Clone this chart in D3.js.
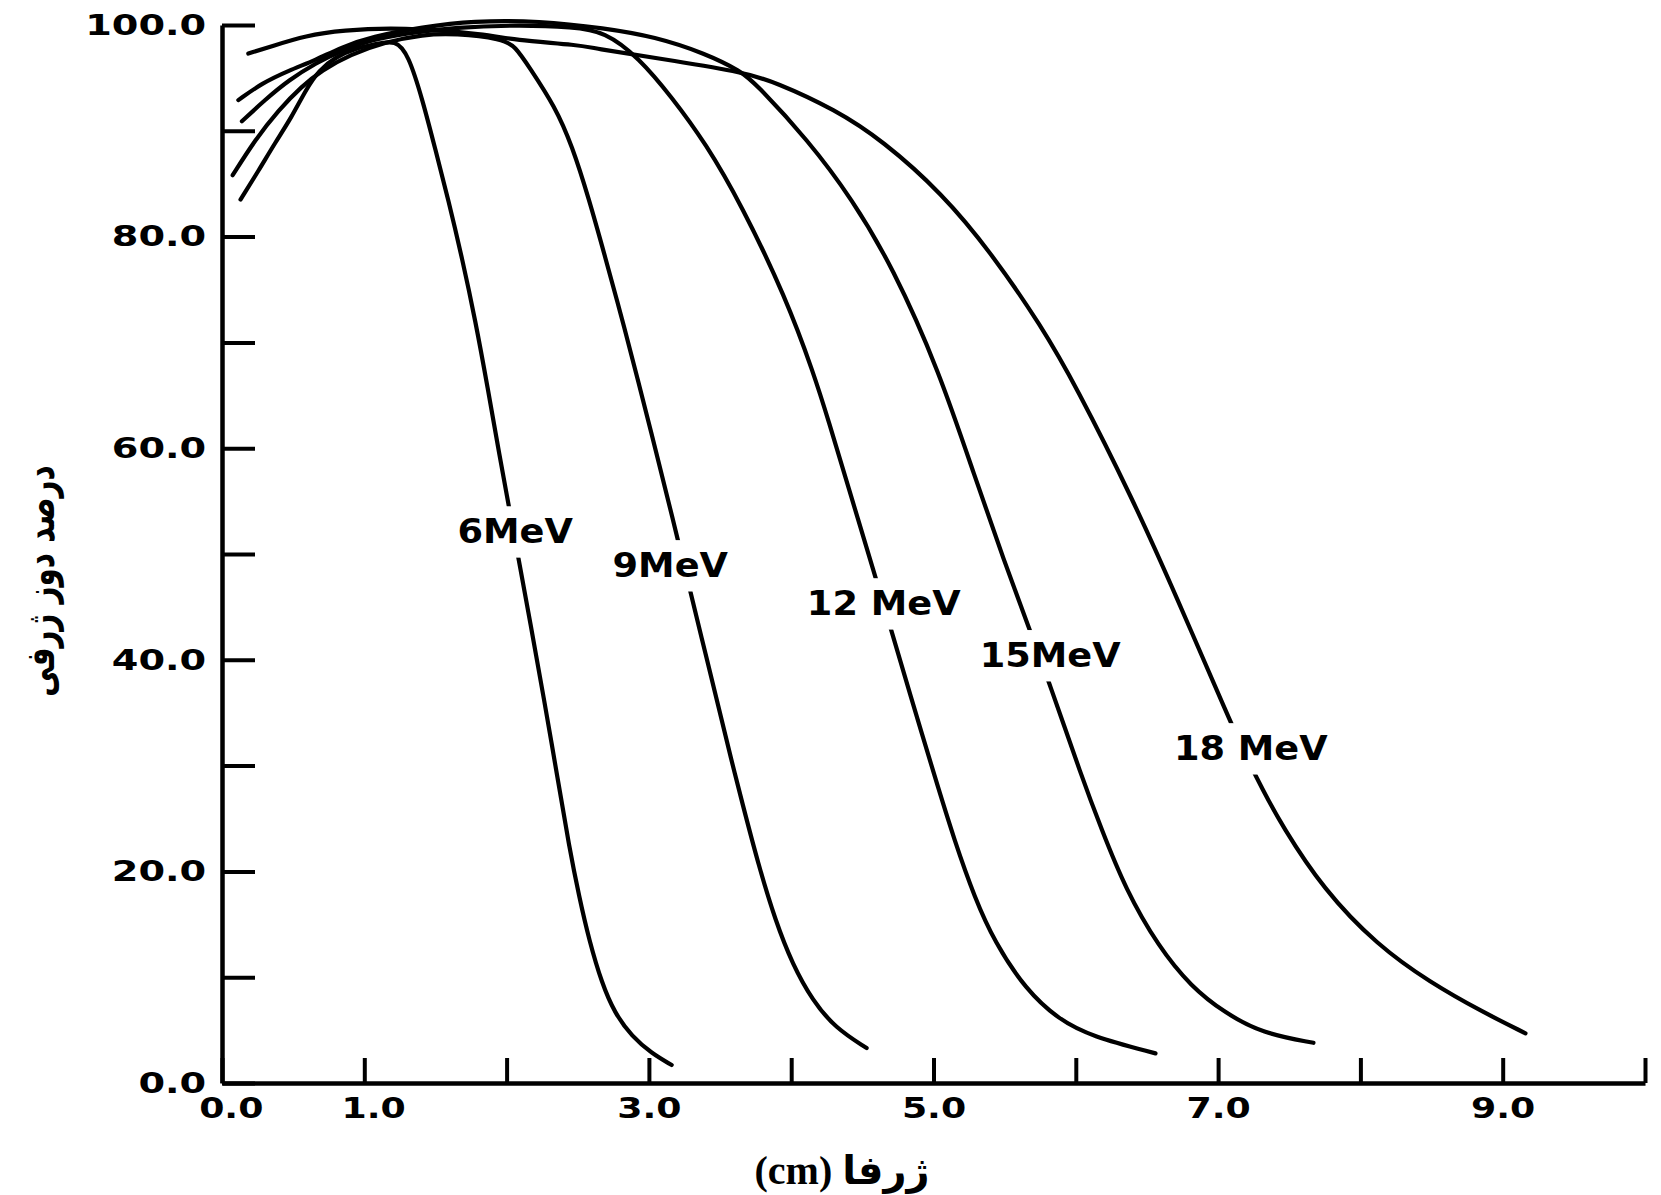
<!DOCTYPE html>
<html>
<head>
<meta charset="utf-8">
<script src="https://cdn.jsdelivr.net/npm/d3@7"></script>
<style>
  body { margin: 0; background: #fff; }
</style>
</head>
<body>
<svg id="chart"></svg>
<script>
// depth (cm) / percent depth dose
const depth6 = [0.13, 0.26, 0.37, 0.49, 0.59, 0.68, 0.80, 0.94, 1.08, 1.22, 1.31, 1.41, 1.50, 1.59, 1.69, 1.78, 1.87, 1.94, 2.01, 2.10, 2.18, 2.26, 2.36, 2.44, 2.51, 2.58, 2.67, 2.76, 2.88, 3.02, 3.16];
const dose6 = [83.5, 86.3, 88.8, 91.3, 93.9, 95.7, 97.0, 97.8, 98.2, 98.6, 97.2, 92.9, 88.2, 83.5, 77.8, 72.1, 65.5, 60.1, 54.9, 48.4, 42.5, 36.5, 28.7, 22.3, 17.6, 13.5, 9.4, 6.6, 4.4, 2.8, 1.7];

const depth9 = [0.075, 0.23, 0.40, 0.56, 0.70, 0.90, 1.15, 1.41, 1.64, 1.97, 2.06, 2.16, 2.34, 2.46, 2.58, 2.69, 2.81, 2.92, 3.05, 3.17, 3.26, 3.37, 3.49, 3.58, 3.65, 3.77, 3.89, 4.01, 4.15, 4.31, 4.53];
const dose9 = [85.8, 89.1, 92.0, 94.2, 95.7, 97.2, 98.4, 99.1, 99.2, 98.7, 98.0, 96.0, 92.3, 88.6, 83.5, 78.2, 72.3, 66.6, 59.7, 53.2, 48.2, 42.1, 35.5, 30.5, 26.8, 20.6, 15.3, 11.2, 7.8, 5.2, 3.3];

const depth12 = [0.14, 0.30, 0.47, 0.66, 0.84, 1.05, 1.29, 1.64, 2.11, 2.46, 2.69, 2.93, 3.16, 3.40, 3.65, 3.96, 4.16, 4.26, 4.40, 4.59, 4.69, 4.83, 5.01, 5.15, 5.29, 5.43, 5.65, 5.88, 6.11, 6.56];
const dose12 = [90.9, 92.9, 94.8, 96.4, 97.6, 98.6, 99.2, 99.8, 100.0, 99.8, 99.4, 96.9, 93.2, 88.8, 83.0, 74.3, 67.0, 62.7, 56.4, 47.9, 43.4, 37.0, 28.9, 22.8, 17.5, 13.3, 8.8, 6.0, 4.4, 2.8];

const depth15 = [0.115, 0.28, 0.47, 0.66, 0.84, 1.05, 1.41, 1.76, 2.23, 2.69, 3.04, 3.40, 3.65, 3.74, 4.12, 4.43, 4.71, 5.04, 5.29, 5.50, 5.66, 5.82, 6.04, 6.18, 6.35, 6.58, 6.81, 7.05, 7.31, 7.67];
const dose15 = [92.9, 94.5, 95.7, 96.7, 97.9, 98.9, 99.8, 100.4, 100.4, 99.7, 98.9, 97.3, 95.6, 94.6, 89.1, 83.5, 77.2, 67.3, 57.3, 49.2, 43.4, 37.6, 29.0, 24.0, 18.3, 12.9, 9.1, 6.6, 4.7, 3.8];

const depth18 = [0.185, 0.35, 0.59, 0.84, 1.26, 1.87, 2.04, 2.52, 2.61, 3.04, 3.65, 3.89, 4.31, 4.64, 5.06, 5.41, 5.76, 6.00, 6.40, 6.70, 7.09, 7.21, 7.31, 7.45, 7.74, 8.12, 8.49, 8.86, 9.16];
const dose18 = [97.3, 98.0, 99.0, 99.5, 99.8, 99.1, 98.6, 98.1, 97.8, 96.9, 95.6, 94.6, 92.0, 89.1, 84.1, 78.4, 71.5, 65.9, 55.2, 46.2, 34.0, 30.5, 27.8, 24.3, 18.3, 13.0, 9.5, 6.7, 4.7];

const labelText = ['6MeV', '9MeV', '12 MeV', '15MeV', '18 MeV'];
const labelDepth = [2.06, 3.15, 4.65, 5.82, 7.23];
const labelDose = [52.2, 49.0, 45.4, 40.5, 31.7];

const xTicks = [0, 1, 2, 3, 4, 5, 6, 7, 8, 9, 10];
const xTickLabels = [0, 1, 3, 5, 7, 9];
const yTicks = [0, 10, 20, 30, 40, 50, 60, 70, 80, 90, 100];
const yTickLabels = [0, 20, 40, 60, 80, 100];

const xTitle = '(cm) ژرفا';
const yTitle = 'درصد دوز ژرفی';

const width = 1661;
const height = 1195;

const svg = d3.select('#chart')
  .attr('width', width)
  .attr('height', height)
  .style('background', '#fff');

const x = d3.scaleLinear().domain([0, 10]).range([222, 1645]);
const y = d3.scaleLinear().domain([0, 100]).range([1083, 25]);

const series = [
  [depth6, dose6],
  [depth9, dose9],
  [depth12, dose12],
  [depth15, dose15],
  [depth18, dose18]
].map(([ds, vs]) => ds.map((d, i) => [d, vs[i]]));

const line = d3.line()
  .x(d => x(d[0]))
  .y(d => y(d[1]))
  .curve(d3.curveBasis);

svg.append('g')
  .attr('fill', 'none')
  .attr('stroke', '#000')
  .attr('stroke-width', 4.2)
  .attr('stroke-linecap', 'round')
  .selectAll('path')
  .data(series)
  .join('path')
  .attr('d', line);

// axes
const tickFont = g => g.selectAll('text')
  .attr('fill', '#000')
  .style('font-family', '"DejaVu Sans", sans-serif')
  .style('font-weight', 'bold')
  .style('font-size', '29px');

const yAxis = svg.append('g')
  .attr('transform', `translate(${x(0)},0)`)
  .call(d3.axisLeft(y)
    .tickValues(yTicks)
    .tickSizeInner(-33)
    .tickSizeOuter(0)
    .tickPadding(12)
    .tickFormat(d => yTickLabels.includes(d) ? d.toFixed(1) : ''))
  .call(tickFont);
yAxis.selectAll('text').attr('transform', 'scale(1.32,1)');

const xAxis = svg.append('g')
  .attr('transform', `translate(0,${y(0)})`)
  .call(d3.axisBottom(x)
    .tickValues(xTicks)
    .tickSizeInner(-25)
    .tickSizeOuter(0)
    .tickPadding(14)
    .tickFormat(d => xTickLabels.includes(d) ? d.toFixed(1) : ''))
  .call(tickFont);
xAxis.selectAll('text')
  .attr('x', d => d < 2 ? 7 : 0)
  .attr('transform', 'scale(1.25,1)');

svg.selectAll('.domain').attr('stroke', '#000').attr('stroke-width', 4.5);
svg.selectAll('.tick line').attr('stroke', '#000').attr('stroke-width', 4);

// curve labels on white boxes
const labels = svg.append('g')
  .selectAll('g')
  .data(labelText.map((t, i) => ({ t, d: labelDepth[i], v: labelDose[i] })))
  .join('g')
  .attr('transform', d => `translate(${x(d.d)},${y(d.v)})`);

const labelTexts = labels.append('text')
  .attr('text-anchor', 'middle')
  .attr('dy', '0.36em')
  .style('font-family', '"DejaVu Sans", sans-serif')
  .style('font-weight', 'bold')
  .style('font-size', '34px')
  .attr('transform', 'scale(1.08,1)')
  .text(d => d.t);

labelTexts.each(function () {
  const b = this.getBBox();
  d3.select(this.parentNode).insert('rect', 'text')
    .attr('x', b.x * 1.08 - 4)
    .attr('y', b.y - 5)
    .attr('width', b.width * 1.08 + 8)
    .attr('height', b.height + 12)
    .attr('fill', '#fff');
});

// titles
svg.append('text')
  .attr('x', 842)
  .attr('y', 1184)
  .attr('text-anchor', 'middle')
  .style('font-family', '"Liberation Serif", "DejaVu Sans", serif')
  .style('font-weight', 'bold')
  .style('font-size', '40px')
  .text(xTitle);

svg.append('text')
  .attr('transform', 'translate(40,581) rotate(-90) scale(0.95,1.3)')
  .attr('text-anchor', 'middle')
  .attr('dy', '0.35em')
  .style('font-family', '"DejaVu Sans", sans-serif')
  .style('font-weight', 'bold')
  .style('font-size', '31px')
  .text(yTitle);
</script>
</body>
</html>
